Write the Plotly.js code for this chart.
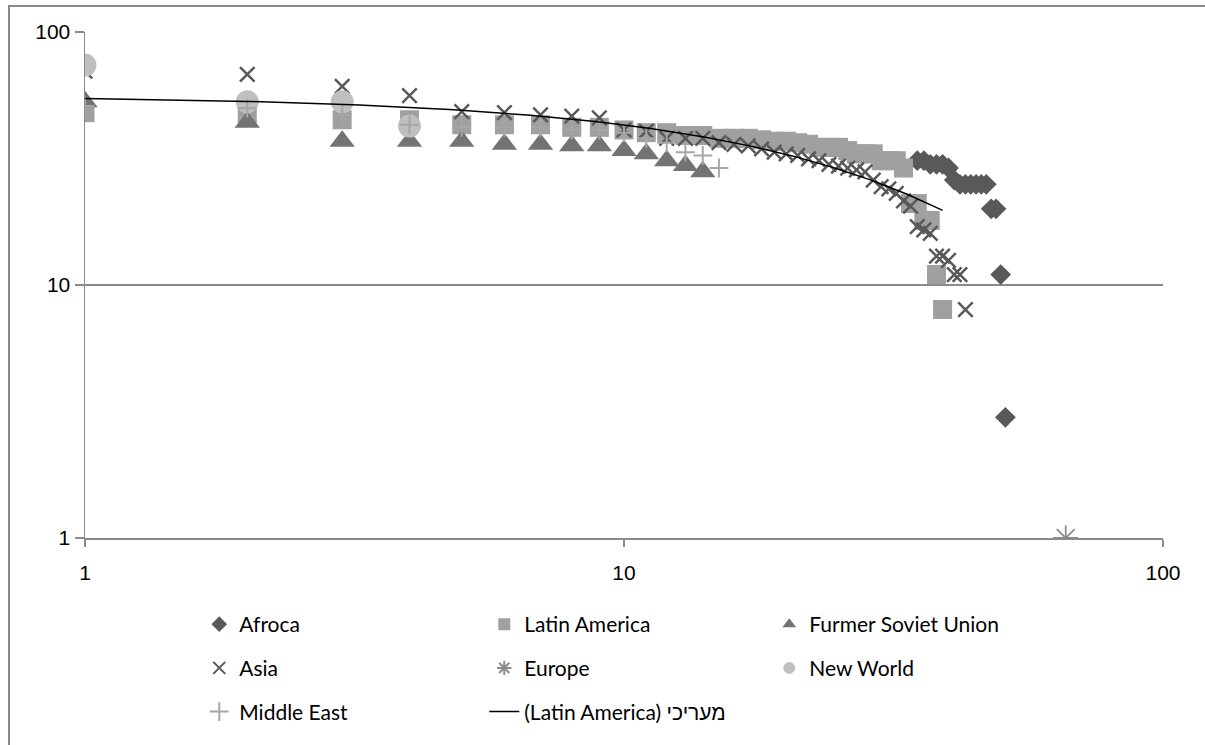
<!DOCTYPE html>
<html>
<head>
<meta charset="utf-8">
<script src="https://cdn.plot.ly/plotly-3.0.1.min.js"></script>
<style>
  html, body { margin: 0; padding: 0; background: #ffffff; overflow: hidden; }
  #frame { position: absolute; left: 8px; top: 5px; width: 1220px; height: 760px; border: 2px solid #8a8a8a; box-sizing: border-box; pointer-events: none; z-index: 5; }
  #chart { position: absolute; left: 0; top: 0; width: 1205px; height: 745px; }
</style>
</head>
<body>
<div id="chart"></div>
<div id="frame"></div>
<script>
// ---- data (rank, value) ----
const africaRank = [35, 36, 37, 38, 39, 40, 41, 42, 43, 44, 45, 46, 47, 48, 49, 50, 51];
const africaVal  = [31, 31, 30, 30, 30, 29, 26, 25, 25, 25, 25, 25, 25, 20, 20, 11, 3];

const latinRank = [1,2,3,4,5,6,7,8,9,10,11,12,13,14,15,16,17,18,19,20,21,22,23,24,25,26,27,28,29,30,31,32,33,34,35,36,37,38,39];
const latinVal  = [48,47,45,45,43,43,43,42,42,41,40,40,39,39,38,38,38,37.5,37,37,36.5,36,35,35,35,34,33,33,33,31,31,31,29,21,21,18,18,11,8];

const fsuRank = [1,2,3,4,5,6,7,8,9,10,11,12,13,14];
const fsuVal  = [53,44,37,37,37,36,36,35.5,35.5,34,33,31,29.7,28];

const asiaRank = [1,2,3,4,5,6,7,8,9,10,11,12,13,14,15,16,17,18,19,20,21,22,23,24,25,26,27,28,29,30,31,32,33,34,35,36,37,38,39,40,41,42,43];
const asiaVal  = [70,68,61,56,48.5,48,47,46.5,45.8,41,40.6,38,38,38,36.5,36,35.5,34.5,33.5,33,32.5,31.5,31,30,29.5,29,28.5,28,26,24.5,24,23,21.5,20.5,17,16.5,16,13,13,12.5,11,11,8];

const europeRank = [66];
const europeVal  = [1];

const newWorldRank = [1, 2, 3, 4];
const newWorldVal  = [74, 53, 53, 42.5];

const middleEastRank = [1,2,3,4,5,6,7,8,9,10,11,12,13,14,15];
const middleEastVal  = [51,50,47,43,42,42,42,41,41,40,38,36.5,33.5,32.5,29];

const seriesNames = ["Afroca", "Latin America", "Furmer Soviet Union", "Asia", "Europe", "New World", "Middle East"];
const trendName = "(Latin America) מעריכי";
const yTickVals = [1, 10, 100];
const xTickVals = [1, 10, 100];

// ---- exponential trendline fitted to Latin America (least squares on ln y) ----
function expFit(xs, ys) {
  const n = xs.length;
  let sx = 0, sy = 0, sxx = 0, sxy = 0;
  for (let i = 0; i < n; i++) {
    const ly = Math.log(ys[i]);
    sx += xs[i]; sy += ly; sxx += xs[i] * xs[i]; sxy += xs[i] * ly;
  }
  const b = (n * sxy - sx * sy) / (n * sxx - sx * sx);
  const lnA = (sy - b * sx) / n;
  return { a: Math.exp(lnA), b: b };
}
const fit = expFit(latinRank, latinVal);
const tx = [], ty = [];
const x0 = Math.min(...latinRank), x1 = Math.max(...latinRank);
for (let k = 0; k <= 200; k++) {
  const x = x0 * Math.pow(x1 / x0, k / 200);
  tx.push(x); ty.push(fit.a * Math.exp(fit.b * x));
}

const traces = [
  { x: africaRank, y: africaVal, name: seriesNames[0], mode: "markers", type: "scatter", legend: "legend",
    marker: { symbol: "diamond", size: 16, color: "#595959" } },
  { x: latinRank, y: latinVal, name: seriesNames[1], mode: "markers", type: "scatter", legend: "legend",
    marker: { symbol: "square", size: 19, color: "#a0a0a0" } },
  { x: fsuRank, y: fsuVal, name: seriesNames[2], mode: "markers", type: "scatter", legend: "legend",
    marker: { symbol: "triangle-up", size: 22, color: "#737373" } },
  { x: asiaRank, y: asiaVal, name: seriesNames[3], mode: "markers", type: "scatter", legend: "legend2",
    marker: { symbol: "x-thin-open", size: 14.5, color: "#595959", line: { color: "#595959", width: 2.5 } } },
  { x: europeRank, y: europeVal, name: seriesNames[4], mode: "markers", type: "scatter", legend: "legend2",
    marker: { symbol: "asterisk-open", size: 21, color: "#8c8c8c", line: { color: "#8c8c8c", width: 1.8 } } },
  { x: newWorldRank, y: newWorldVal, name: seriesNames[5], mode: "markers", type: "scatter", legend: "legend2",
    marker: { symbol: "circle", size: 23, color: "#bfbfbf" } },
  { x: middleEastRank, y: middleEastVal, name: seriesNames[6], mode: "markers", type: "scatter", legend: "legend3",
    marker: { symbol: "cross-thin-open", size: 13.5, color: "#a6a6a6", line: { color: "#a6a6a6", width: 2 } } },
  { x: tx, y: ty, name: trendName, mode: "lines", type: "scatter", legend: "legend3",
    line: { color: "#000000", width: 1.5 } }
];

const legendFont = { family: "Lato, 'Liberation Sans', sans-serif", size: 21, color: "#000" };
function legendAt(yPix, sizing) {
  return {
    orientation: "h", x: 0.106, xanchor: "left", y: -(yPix - 541) / 509, yanchor: "middle",
    entrywidth: 240, entrywidthmode: "pixels", traceorder: "normal",
    font: legendFont, itemsizing: sizing, bgcolor: "rgba(0,0,0,0)"
  };
}

const layout = {
  width: 1205, height: 745,
  margin: { l: 85, r: 42, t: 32, b: 204 },
  paper_bgcolor: "#ffffff", plot_bgcolor: "#ffffff",
  font: { family: "Lato, 'Liberation Sans', sans-serif", size: 19, color: "#000000" },
  showlegend: true,
  xaxis: {
    type: "log", range: [0, 2], tickvals: xTickVals, ticktext: xTickVals.map(String),
    showgrid: false, zeroline: false, showline: true, linecolor: "#8a8a8a", linewidth: 1.5,
    ticks: "outside", ticklen: 7, tickcolor: "#8a8a8a", tickwidth: 1.5, ticklabelstandoff: 8,
    tickfont: { family: "'Liberation Sans', Arial, sans-serif", size: 21, color: "#000" },
    fixedrange: true
  },
  yaxis: {
    type: "log", range: [0, 2], tickvals: yTickVals, ticktext: yTickVals.map(String),
    showgrid: true, gridcolor: "#8a8a8a", gridwidth: 1.5,
    zeroline: false, showline: true, linecolor: "#8a8a8a", linewidth: 1.5,
    ticks: "outside", ticklen: 9, tickcolor: "#8a8a8a", tickwidth: 1.5,
    tickfont: { family: "'Liberation Sans', Arial, sans-serif", size: 21, color: "#000" },
    fixedrange: true
  },
  legend: legendAt(628, "constant"),
  legend2: legendAt(672, "constant"),
  legend3: legendAt(716, "trace")
};

Plotly.newPlot("chart", traces, layout, { staticPlot: true, displayModeBar: false });
</script>
</body>
</html>
